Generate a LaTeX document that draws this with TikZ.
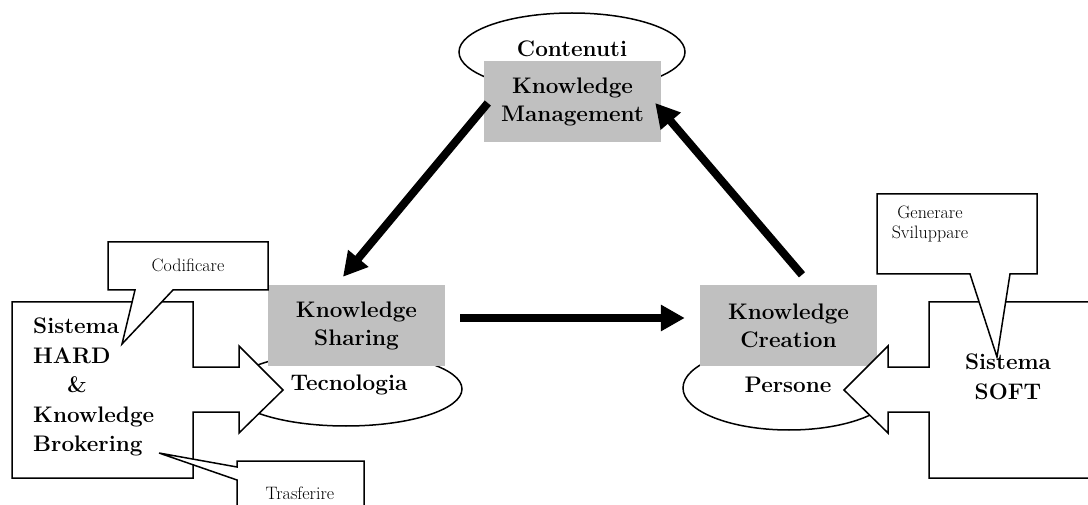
\documentclass[tikz,border=0pt]{standalone}
\usepackage{fontspec}
\usetikzlibrary{arrows.meta,shapes.geometric}
\definecolor{boxgrey}{HTML}{C0C0C0}
\begin{document}
\begin{tikzpicture}[x=1pt,y=-1pt,
  outline/.style={draw=black, line width=1.5pt, line join=miter, fill=white},
  ring/.style={ellipse, draw=black, line width=1.5pt, inner sep=0pt},
  greybox/.style={fill=boxgrey, draw=none, minimum width=177pt, minimum height=81pt,
    inner sep=0pt, align=center, font=\fontsize{22.5}{28}\selectfont\bfseries},
  boldtext/.style={inner sep=0pt, font=\fontsize{22.5}{29.5}\selectfont\bfseries},
  smalltext/.style={inner sep=0pt, align=center, font=\fontsize{18}{20}\selectfont},
  bigarrow/.style={line width=8pt, -{Triangle[length=24pt,width=25pt]}}
]
\path[use as bounding box] (0,0) rectangle (1088,505);
\clip (0,0) rectangle (1088,505);

% ellipses behind the three boxes
\node[ring, minimum width=226pt, minimum height=78pt] (contEll) at (572,52) {};
\node[ring, minimum width=232pt, minimum height=74pt] (tecEll) at (346,389) {};
\node[ring, minimum width=212pt, minimum height=84pt] (perEll) at (789,388) {};

% grey boxes
\node[greybox] (km) at (572.5,101.5) {Knowledge\\Management};
\node[greybox] (ks) at (356.5,325.5) {Knowledge\\Sharing};
\node[greybox] (kc) at (788.5,325.5) {Knowledge\\Creation};

% block arrow callouts
\draw[outline] (12,302) -- (193,302) -- (193,367) -- (239,367) -- (239,346)
  -- (283,390) -- (239,433) -- (239,412) -- (193,412) -- (193,478) -- (12,478) -- cycle;
\draw[outline] (1100,302) -- (929,302) -- (929,367) -- (888,367) -- (888,346)
  -- (844,390) -- (888,433) -- (888,412) -- (929,412) -- (929,478) -- (1100,478);

% speech callouts
\draw[outline] (108,242) -- (268,242) -- (268,290) -- (173,290) -- (122,344)
  -- (135,290) -- (108,290) -- cycle;
\draw[outline] (877,194) -- (1037,194) -- (1037,274) -- (1010,274) -- (997,357)
  -- (970,274) -- (877,274) -- cycle;
\draw[outline] (237,461) -- (364,461) -- (364,520) -- (237,520) -- (237,480)
  -- (159,453) -- (237,467) -- cycle;

% labels
\node[boldtext] (cont) at (572,49) {Contenuti};
\node[boldtext] (tec) at (349,385) {Tecnologia};
\node[boldtext] (per) at (788,385) {Persone};
\node[boldtext, align=left, anchor=north west] (hard) at (33,318)
  {Sistema\\HARD\\\hspace*{34pt}\&\\Knowledge\\Brokering};
\node[boldtext, align=center] (soft) at (1008,377) {Sistema\\SOFT};
\node[smalltext] (cod) at (188,265) {Codificare};
\node[smalltext] (gen) at (930,224) {Generare\\Sviluppare};
\node[smalltext] (tra) at (300,493) {Trasferire};

% flow between the three activities
\draw[bigarrow] ([shift={(4,1.5)}]km.west) -- ([shift={(-13.5,-8)}]ks.north);
\draw[bigarrow] ([shift={(15,-7.5)}]ks.east) -- ([shift={(-15,-7.5)}]kc.west);
\draw[bigarrow] ([shift={(13.5,-10)}]kc.north) -- ([shift={(-6,1.5)}]km.east);
\end{tikzpicture}
\end{document}
